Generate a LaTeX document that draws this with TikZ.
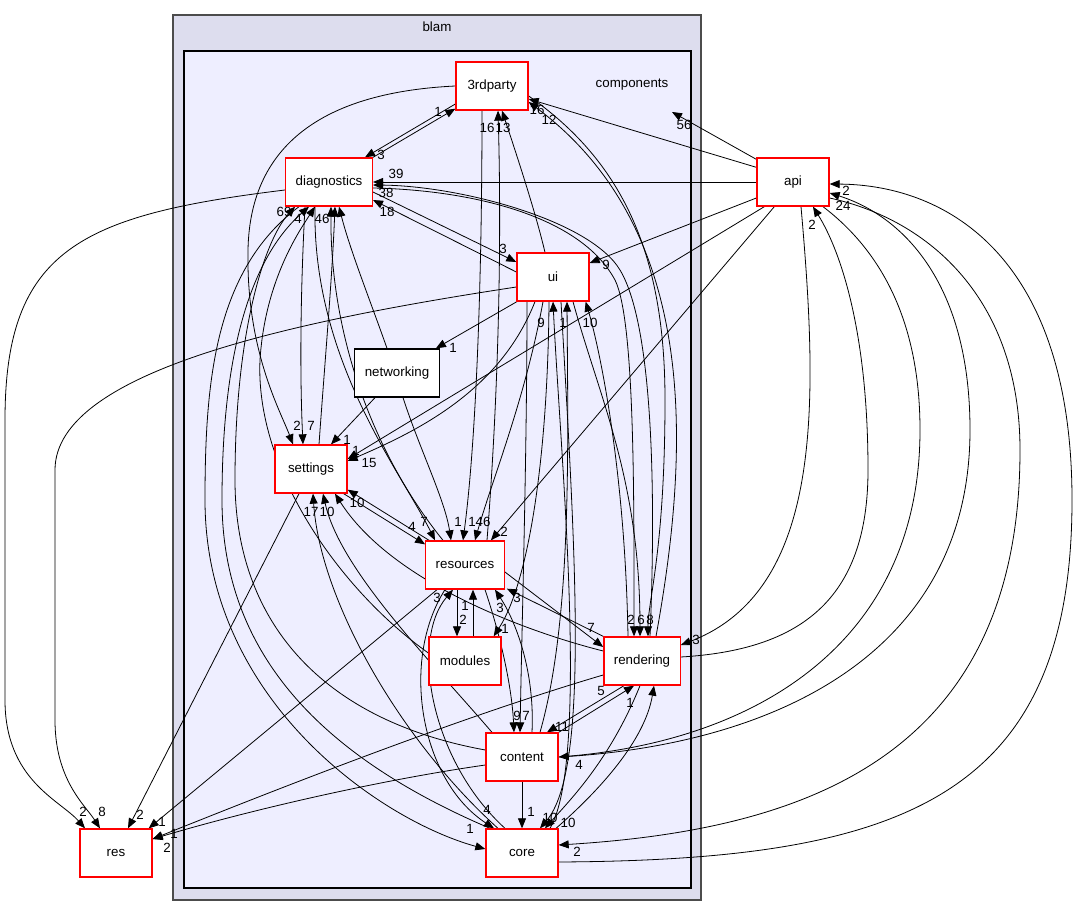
\documentclass[tikz,border=0pt]{standalone}
\usepackage{fontspec}
\setmainfont{Liberation Sans}
\usetikzlibrary{arrows.meta,backgrounds}
\definecolor{outerfill}{HTML}{DDDDEE}
\definecolor{innerfill}{HTML}{EEEEFF}
\begin{document}
\begin{tikzpicture}[x=0.75pt,y=-0.75pt,
  dir/.style={draw=red, fill=white, line width=1pt, minimum width=54pt, minimum height=36pt, inner xsep=7.5pt, font=\fontsize{10}{12}\selectfont},
  dep/.style={-{Triangle[length=7.5pt,width=6pt]}, line width=0.6pt},
  num/.style={font=\fontsize{10}{12}\selectfont, inner sep=0pt}]
\useasboundingbox (0,0) rectangle (1078,916);
% directories
\node[dir] (tp) at (492,86) {3rdparty};
\node[dir] (diag) at (329,182) {diagnostics};
\node[dir] (api) at (793,182) {api};
\node[dir] (ui) at (553,277) {ui};
\node[dir,draw=black] (net) at (397,373) {networking};
\node[dir] (set) at (311,469) {settings};
\node[dir] (rsc) at (465,565) {resources};
\node[dir] (mod) at (465,661) {modules};
\node[dir] (rend) at (642,661) {rendering};
\node[dir] (cont) at (522,757) {content};
\node[dir] (core) at (522,853) {core};
\node[dir] (res) at (116,853) {res};
\begin{pgfonlayer}{background}
% clusters
\draw[fill=outerfill, draw=black!70, line width=0.8pt] (173,15) rectangle (701,900);
\draw[fill=innerfill, line width=0.8pt] (184,51) rectangle (691,888);
\node[num] (blam) at (437,27) {blam};
\node[num] (components) at (632,85) {components};
\coordinate (cmp) at (672,112);
% api
\draw[dep] ([shift={(0,2)}]api.north west) -- (cmp) node[num,at={(684,125)}]{56};
\draw[dep] ([shift={(0,10)}]api.north west) -- ([shift={(0,13)}]tp.east) node[num,at={(537,110)}]{16};
\draw[dep] (api.west) -- (diag.east) node[num,at={(386,193)}]{38};
\draw[dep] ([shift={(0,16)}]api.west) -- ([shift={(0,-14)}]ui.east) node[num,at={(606,265)}]{9};
\draw[dep] ([shift={(8,0)}]api.south west) -- ([shift={(0,-10)}]set.east) node[num,at={(369,463)}]{15};
\draw[dep] ([shift={(18,0)}]api.south west) -- ([shift={(-14,0)}]rsc.north east) node[num,at={(504,532)}]{2};
\draw[dep] ([shift={(8,0)}]api.south) .. controls (818,400) and (825,590) .. ([shift={(0,-16)}]rend.east) node[num,at={(696,640)}]{3};
\draw[dep] ([shift={(30,0)}]api.south) .. controls (880,250) and (920,320) .. (920,430) .. controls (920,640) and (760,740) .. (cont.east) node[num,at={(579,765)}]{4};
\draw[dep] ([shift={(0,16)}]api.east) .. controls (930,220) and (1020,300) .. (1020,450) .. controls (1020,760) and (800,830) .. ([shift={(0,-8)}]core.east) node[num,at={(577,852)}]{2};
\draw[dep] ([shift={(0,-4)}]rend.east) .. controls (800,650) and (868,600) .. (868,470) .. controls (868,330) and (840,250) .. ([shift={(20,0)}]api.south) node[num,at={(812,225)}]{2};
\draw[dep] (cont.east) .. controls (780,745) and (970,650) .. (970,430) .. controls (970,280) and (900,215) .. ([shift={(0,11)}]api.east) node[num,at={(843,206)}]{24};
\draw[dep] ([shift={(0,9)}]core.east) .. controls (900,860) and (1072,800) .. (1072,500) .. controls (1072,260) and (950,185) .. ([shift={(0,2)}]api.east) node[num,at={(846,191)}]{2};
% 3rdparty
\draw[dep] ([shift={(0,18)}]tp.west) -- ([shift={(-8,0)}]diag.north east) node[num,at={(381,155)}]{3};
\draw[dep] (diag.north east) -- ([shift={(0,-2)}]tp.south west) node[num,at={(438,112)}]{1};
\draw[dep] (tp.west) .. controls (330,92) and (250,140) .. (248,250) .. controls (246,350) and (280,410) .. ([shift={(-18,0)}]set.north) node[num,at={(297,426)}]{2};
\draw[dep] ([shift={(-10,0)}]tp.south) .. controls (482,300) and (475,450) .. ([shift={(-2,0)}]rsc.north) node[num,at={(472,522)}]{1};
\draw[dep] ([shift={(22,0)}]rsc.north) .. controls (498,400) and (502,250) .. ([shift={(6,0)}]tp.south) node[num,at={(487,128)}]{16};
\draw[dep] ([shift={(-8,0)}]ui.north) .. controls (535,210) and (515,150) .. ([shift={(10,0)}]tp.south) node[num,at={(503,128)}]{13};
\draw[dep] ([shift={(14,0)}]rend.north) .. controls (690,450) and (700,230) .. ([shift={(0,16)}]tp.east) node[num,at={(549,120)}]{12};
\draw[dep] ([shift={(0,10)}]tp.east) .. controls (620,160) and (665,250) .. (665,400) .. controls (665,550) and (648,600) .. ([shift={(6,0)}]rend.north) node[num,at={(650,620)}]{8};
% diagnostics
\draw[dep] ([shift={(0,10)}]diag.east) -- ([shift={(0,-15)}]ui.west) node[num,at={(503,249)}]{3};
\draw[dep] ([shift={(0,-5)}]ui.west) -- ([shift={(0,18)}]diag.east) node[num,at={(387,212)}]{18};
\draw[dep] ([shift={(8,0)}]rend.north) .. controls (655,520) and (656,330) .. (620,270) .. controls (590,220) and (460,186) .. ([shift={(0,3)}]diag.east) node[num,at={(396,174)}]{39};
\draw[dep] ([shift={(0,6)}]diag.east) .. controls (470,190) and (580,215) .. (615,280) .. controls (635,320) and (634,500) .. ([shift={(-8,0)}]rend.north) node[num,at={(631,620)}]{2};
\draw[dep] ([shift={(-24,0)}]diag.south) .. controls (300,300) and (300,380) .. ([shift={(-8,0)}]set.north) node[num,at={(311,426)}]{7};
\draw[dep] ([shift={(8,0)}]set.north) .. controls (325,360) and (332,280) .. ([shift={(6,0)}]diag.south) node[num,at={(322,219)}]{46};
\draw[dep] ([shift={(-10,0)}]net.north) .. controls (370,300) and (350,250) .. ([shift={(10,0)}]diag.south);
\draw[dep] ([shift={(-14,0)}]diag.south) .. controls (312,360) and (400,470) .. ([shift={(-30,0)}]rsc.north) node[num,at={(424,522)}]{7};
\draw[dep] ([shift={(-22,0)}]rsc.north) .. controls (370,450) and (330,330) .. ([shift={(2,0)}]diag.south);
\draw[dep] ([shift={(-30,0)}]diag.south) .. controls (215,270) and (205,380) .. (205,500) .. controls (205,700) and (380,820) .. ([shift={(0,-4)}]core.west) node[num,at={(470,829)}]{1};
\draw[dep] ([shift={(-32,0)}]core.north) .. controls (330,760) and (222,660) .. (222,500) .. controls (222,330) and (260,250) .. ([shift={(-20,0)}]diag.south) node[num,at={(298,219)}]{4};
\draw[dep] ([shift={(0,-7)}]cont.west) .. controls (320,720) and (235,620) .. (235,480) .. controls (235,330) and (265,240) .. ([shift={(-34,0)}]diag.south) node[num,at={(284,212)}]{69};
\draw[dep] ([shift={(0,-8)}]mod.west) .. controls (340,590) and (255,470) .. (260,360) .. controls (265,280) and (300,230) .. ([shift={(-14,0)}]diag.south);
% res
\draw[dep] ([shift={(0,8)}]diag.west) .. controls (80,215) and (5,250) .. (5,420) -- (5,700) .. controls (5,780) and (60,800) .. ([shift={(-31,0)}]res.north) node[num,at={(83,812)}]{2};
\draw[dep] ([shift={(0,10)}]ui.west) .. controls (300,320) and (55,370) .. (55,470) -- (55,720) .. controls (55,780) and (85,805) .. ([shift={(-16,0)}]res.north) node[num,at={(102,812)}]{8};
\draw[dep] ([shift={(-12,0)}]set.south) -- ([shift={(12,0)}]res.north) node[num,at={(140,815)}]{2};
\draw[dep] ([shift={(-28,0)}]rsc.south) -- ([shift={(-4,0)}]res.north east) node[num,at={(162,822)}]{1};
\draw[dep] ([shift={(0,8)}]cont.west) .. controls (380,780) and (250,810) .. ([shift={(0,-14)}]res.east) node[num,at={(167,848)}]{2};
\draw[dep] ([shift={(0,14)}]rend.west) .. controls (450,720) and (250,800) .. ([shift={(0,-14)}]res.east) node[num,at={(174,834)}]{1};
% networking
\draw[dep] ([shift={(4,-2)}]ui.south west) -- ([shift={(-4,0)}]net.north east) node[num,at={(453,348)}]{1};
\draw[dep] ([shift={(-22,0)}]net.south) -- ([shift={(20,0)}]set.north) node[num,at={(347,440)}]{1};
\draw[dep] ([shift={(6,0)}]net.south) .. controls (420,450) and (445,500) .. ([shift={(-14,0)}]rsc.north) node[num,at={(458,522)}]{1};
% settings
\draw[dep] ([shift={(-4,0)}]set.south east) -- ([shift={(0,4)}]rsc.north west) node[num,at={(412,527)}]{4};
\draw[dep] ([shift={(4,0)}]rsc.north west) -- ([shift={(0,-4)}]set.south east) node[num,at={(357,503)}]{10};
\draw[dep] ([shift={(-24,0)}]core.north) .. controls (400,740) and (320,600) .. ([shift={(2,0)}]set.south) node[num,at={(311,512)}]{17};
\draw[dep] ([shift={(-30,0)}]cont.north) .. controls (430,660) and (340,570) .. ([shift={(12,0)}]set.south) node[num,at={(327,512)}]{10};
\draw[dep] ([shift={(0,-10)}]rend.west) .. controls (520,630) and (390,580) .. ([shift={(24,0)}]set.south);
% resources, modules
\draw[dep] ([shift={(-8,0)}]rsc.south) -- ([shift={(-8,0)}]mod.north) node[num,at={(465,606)}]{1};
\draw[dep] ([shift={(8,0)}]mod.north) -- ([shift={(8,0)}]rsc.south) node[num,at={(463,620)}]{2};
\draw[dep] ([shift={(0,7)}]rsc.east) -- ([shift={(0,-14)}]rend.west) node[num,at={(591,628)}]{7};
\draw[dep] (rend.north west) -- ([shift={(2,-1)}]rsc.south east) node[num,at={(517,598)}]{3};
\draw[dep] ([shift={(20,0)}]rsc.south) .. controls (502,640) and (512,690) .. ([shift={(-8,0)}]cont.north) node[num,at={(517,716)}]{9};
\draw[dep] ([shift={(10,0)}]cont.north) .. controls (535,670) and (515,620) .. ([shift={(30,0)}]rsc.south) node[num,at={(500,608)}]{3};
\draw[dep] ([shift={(-20,0)}]rsc.south) .. controls (400,660) and (420,780) .. ([shift={(-28,0)}]core.north) node[num,at={(487,810)}]{4};
\draw[dep] ([shift={(-17,0)}]core.north) .. controls (430,760) and (410,640) .. ([shift={(-12,0)}]rsc.south) node[num,at={(437,598)}]{3};
% ui
\draw[dep] ([shift={(-4,0)}]ui.south) .. controls (548,450) and (530,580) .. ([shift={(-8,0)}]mod.north east) node[num,at={(505,629)}]{1};
\draw[dep] ([shift={(-18,0)}]ui.south) .. controls (500,390) and (420,430) .. ([shift={(0,-8)}]set.east) node[num,at={(356,451)}]{1};
\draw[dep] ([shift={(-10,0)}]ui.south) .. controls (525,400) and (492,480) .. ([shift={(10,0)}]rsc.north) node[num,at={(483,522)}]{46};
\draw[dep] ([shift={(-26,0)}]ui.south) .. controls (527,450) and (522,620) .. ([shift={(-2,0)}]cont.north) node[num,at={(526,716)}]{7};
\draw[dep] ([shift={(18,0)}]cont.north) .. controls (572,620) and (568,450) .. ([shift={(14,0)}]ui.south) node[num,at={(563,323)}]{1};
\draw[dep] ([shift={(28,0)}]core.north) .. controls (590,760) and (560,450) .. (ui.south) node[num,at={(541,323)}]{9};
\draw[dep] ([shift={(8,0)}]ui.south) .. controls (575,550) and (590,770) .. ([shift={(18,0)}]core.north) node[num,at={(550,818)}]{10};
\draw[dep] ([shift={(-14,0)}]rend.north) .. controls (625,470) and (600,350) .. ([shift={(-4,0)}]ui.south east) node[num,at={(590,323)}]{10};
\draw[dep] ([shift={(20,0)}]ui.south) .. controls (600,400) and (640,480) .. ([shift={(-2,0)}]rend.north) node[num,at={(641,620)}]{6};
% rendering, content, core
\draw[dep] ([shift={(-18,0)}]rend.south) -- ([shift={(25,0)}]cont.north) node[num,at={(562,727)}]{11};
\draw[dep] (cont.north east) -- ([shift={(-8,0)}]rend.south) node[num,at={(601,691)}]{5};
\draw[dep] ([shift={(-2,0)}]rend.south) .. controls (610,760) and (570,800) .. ([shift={(23,0)}]core.north) node[num,at={(568,823)}]{10};
\draw[dep] ([shift={(34,0)}]core.north) .. controls (600,790) and (645,740) .. ([shift={(12,0)}]rend.south) node[num,at={(630,703)}]{1};
\draw[dep] (cont.south) -- (core.north) node[num,at={(531,812)}]{1};
\end{pgfonlayer}
\end{tikzpicture}
\end{document}
